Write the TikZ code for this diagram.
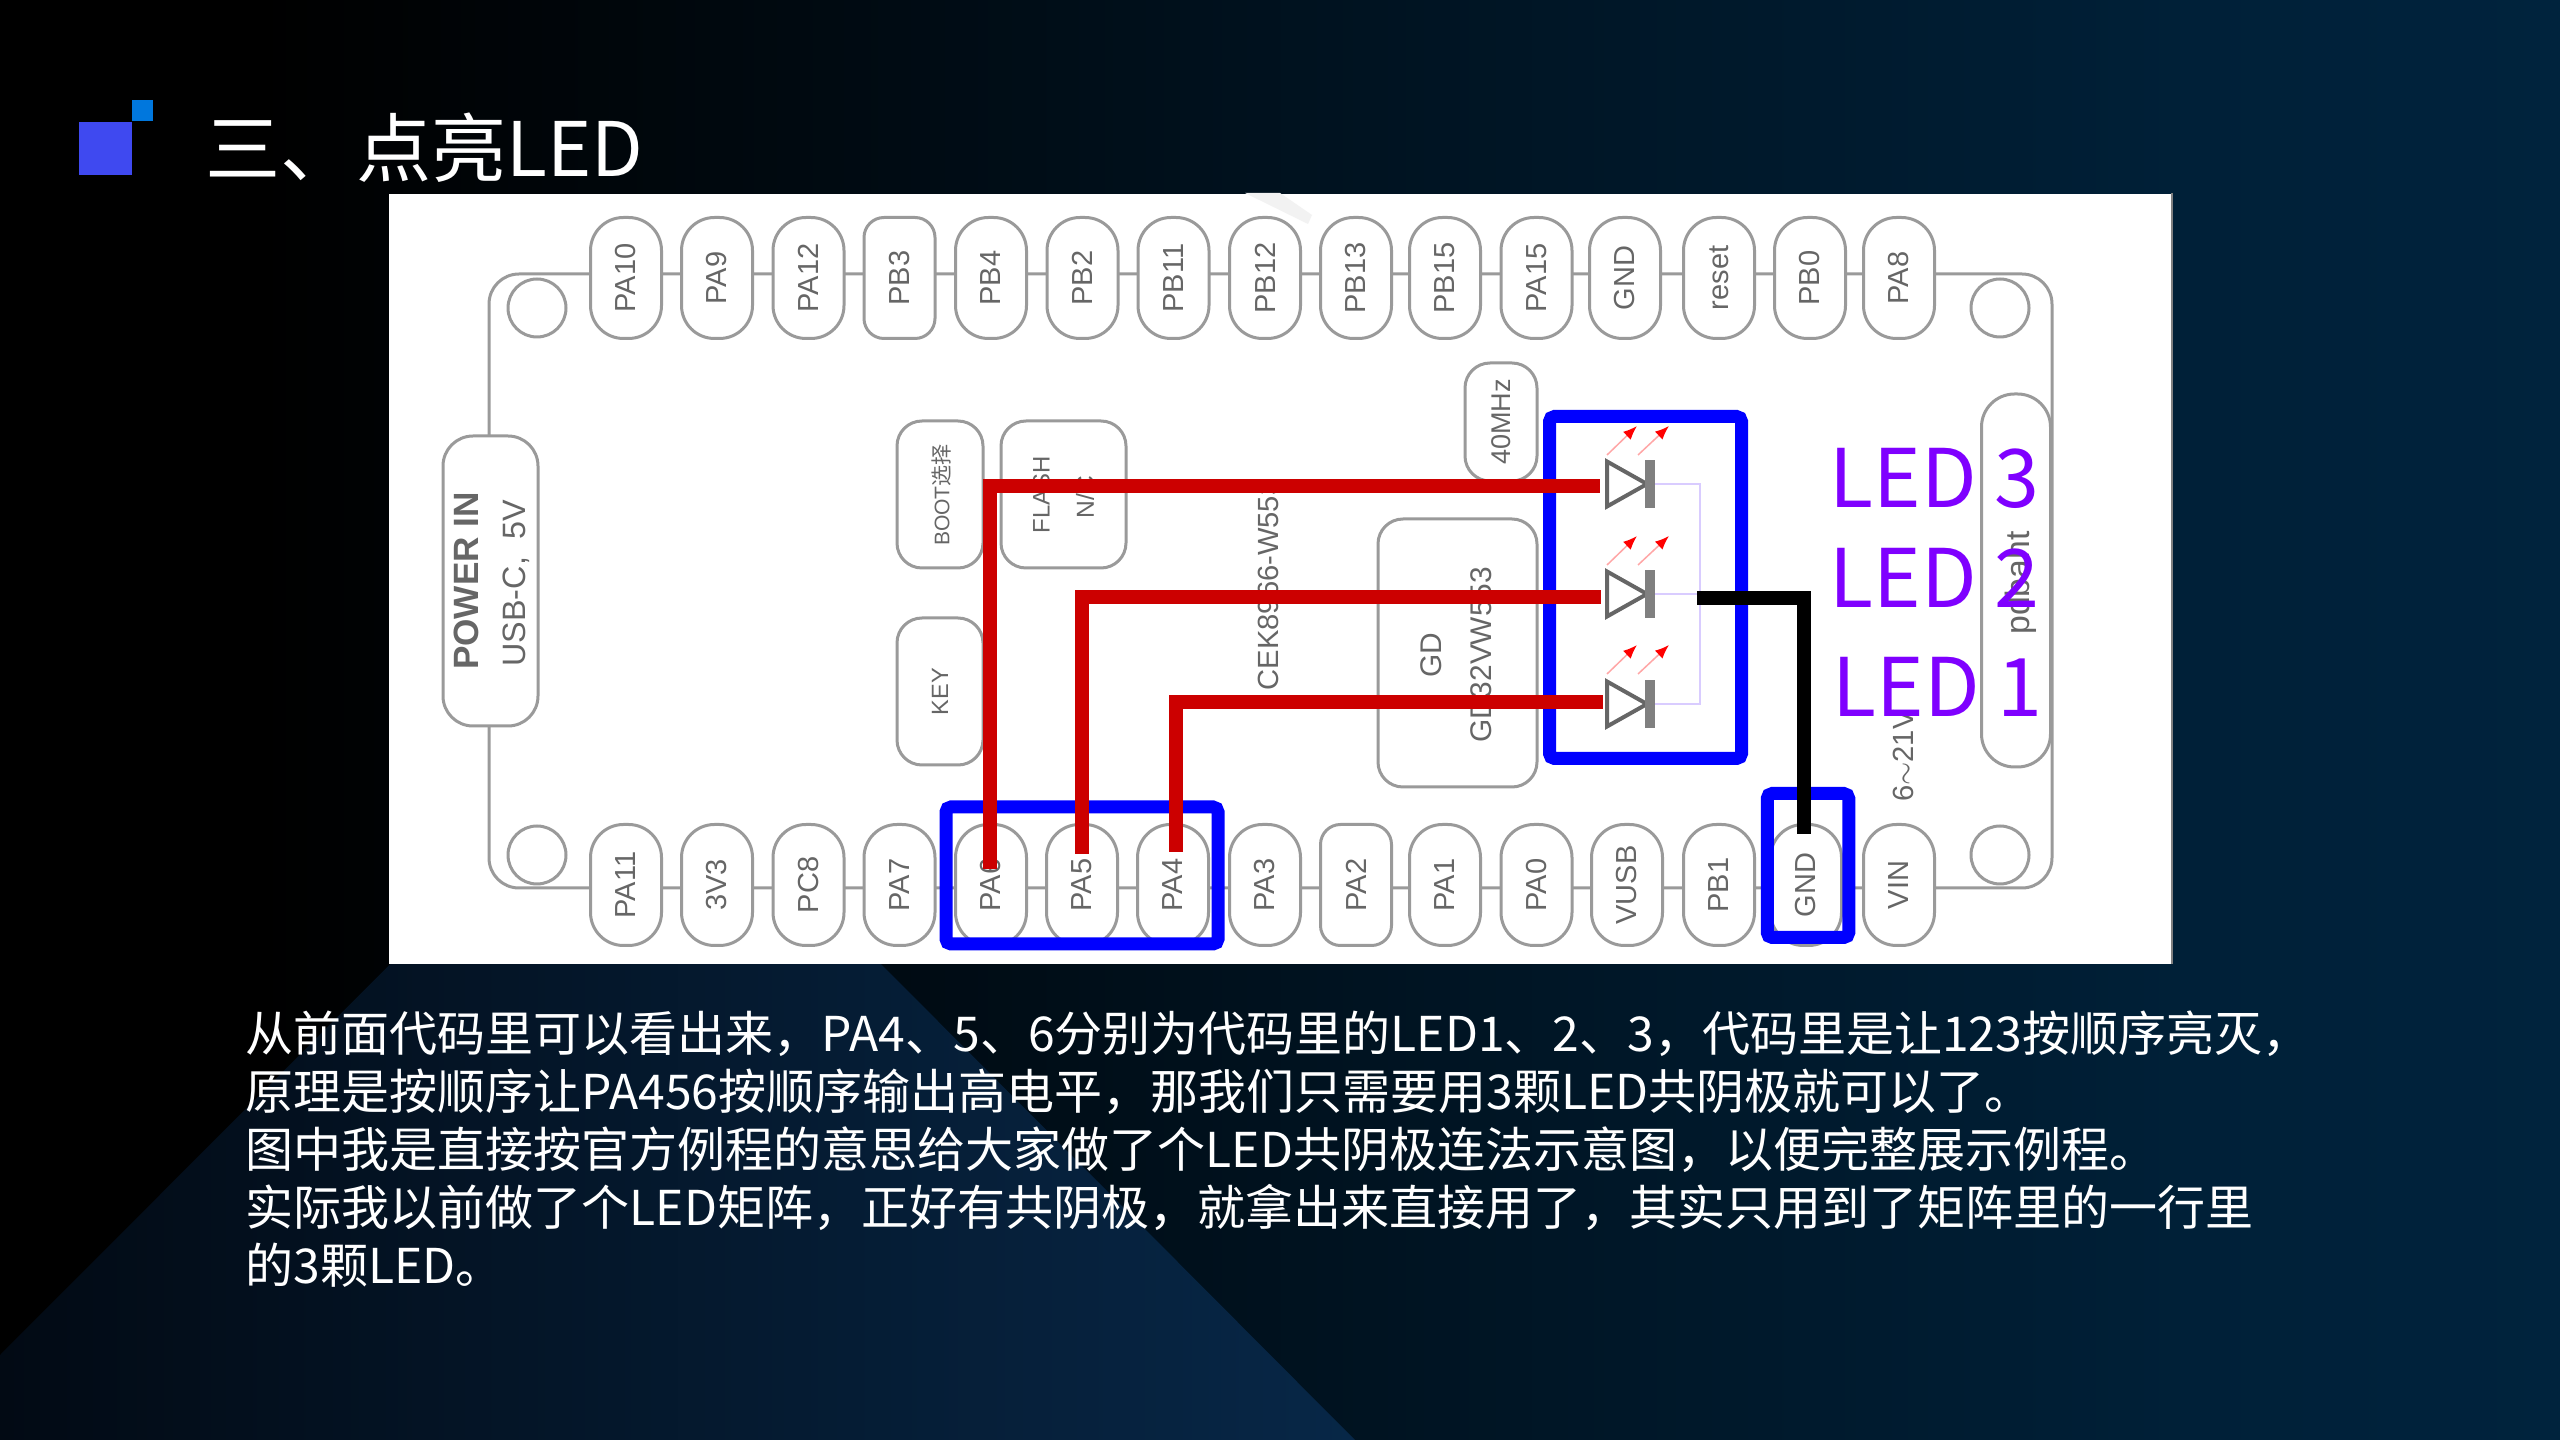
\documentclass[tikz,border=0pt]{standalone}
\usepackage{fontspec}
\setmainfont{Liberation Sans}
\newfontfamily\cjk{Noto Sans CJK SC}
\usepackage{tikz}
\usetikzlibrary{shapes.geometric, arrows, arrows.meta}

\definecolor{slideright}{HTML}{00233D}
\definecolor{facetleft}{HTML}{020A14}
\definecolor{facetright}{HTML}{072747}
\definecolor{markbig}{HTML}{3F49F0}
\definecolor{marksmall}{HTML}{0077DD}
\definecolor{pinline}{HTML}{9A9A9A}
\definecolor{pintext}{HTML}{666666}
\definecolor{wirered}{HTML}{CC0000}
\definecolor{buslilac}{HTML}{D9CCFF}
\definecolor{ledlabel}{HTML}{7F00FF}
\pgfdeclarehorizontalshading{slidefade}{100bp}{color(0bp)=(black); color(30bp)=(black); color(50bp)=(slideright!50!black); color(68bp)=(slideright!92!black); color(75bp)=(slideright); color(100bp)=(slideright)}

\begin{document}
\begin{tikzpicture}[x=0.1mm, y=-0.1mm, font=\fontsize{8.25pt}{10pt}\selectfont, text=pintext]
		\tikzstyle{pin} = [rectangle, rotate=90, rounded corners=3.3mm, minimum width=12.1mm, minimum height=7.1mm, inner sep=0pt, draw=pinline, line width=.3mm, fill=white]
		
		\tikzstyle{squarepin} = [pin, rounded corners=2mm]
		
		\tikzstyle{part} = [rectangle, rotate=90, rounded corners=2.5mm, inner sep=0pt, draw=pinline, line width=.3mm, fill=white]
		
		\tikzstyle{hole} = [circle, minimum size=5.8mm, inner sep=0pt, draw=pinline, line width=.3mm]
		
		\tikzstyle{silk} = [rotate=90, inner sep=0pt]
		
		\tikzstyle{bluebox} = [rectangle, rounded corners=.5mm, inner sep=0pt, draw=blue, line width=1.3mm]
		
		\tikzstyle{ledtri} = [isosceles triangle, isosceles triangle stretches, minimum width=4.5mm, minimum height=4mm, inner sep=0pt, outer sep=0pt, anchor=apex, draw=black!60, line width=.4mm]
		
		\tikzstyle{ledbar} = [rectangle, minimum width=1mm, minimum height=4.8mm, inner sep=0pt, outer sep=0pt, fill=gray]
		
		\tikzstyle{glow} = [-{Latex[red, length=1.4mm, width=1.1mm]}, draw=red!35, line width=.15mm]
		
		\tikzstyle{ledname} = [anchor=base west, inner sep=0pt, text=ledlabel, font=\cjk\fontsize{23pt}{28pt}\selectfont]
		
		\tikzstyle{redwire} = [draw=wirered, line width=1.4mm]
		
		% Slide background
		\useasboundingbox (0,0) rectangle (2560,1440);
		\shade [shading=slidefade] (0,0) rectangle (2560,1440);
		\shade [left color=facetleft, right color=facetright] (0,1355) -- (636,718) -- (1355,1440) -- (0,1440) -- cycle;
		
		% Title
		\fill [markbig] (79,122) rectangle (132,175);
		\fill [marksmall] (132,100) rectangle (153,121);
		\node (title) [anchor=base west, inner sep=0pt, text=white, font=\cjk\fontsize{21.4pt}{25pt}\selectfont] at (205,177) {三、点亮LED};
		
		% White panel and board outline
		\node (panel) [anchor=north west, minimum width=178.3mm, minimum height=77mm, inner sep=0pt, fill=white] at (388,193) {};
		\draw [draw=gray, line width=.2mm] (panel.north east) -- (panel.south east);
		\fill [black!5] (1245,193) -- (1280,193) -- (1312,215) -- (1308,224) -- cycle;
		\node (board) [minimum width=156.3mm, minimum height=61.4mm, rounded corners=3mm, inner sep=0pt, draw=pinline, line width=.3mm] at (1270.5,581) {};
		\node (holea) [hole] at (537,308) {};
		\node (holeb) [hole] at (2000,308) {};
		\node (holec) [hole] at (537,855) {};
		\node (holed) [hole] at (2000,855) {};
		
		% Top row of pins
		\node (pa10) [pin] at (626,278) {PA10};
		\node (pa9) [pin] at (717,278) {PA9};
		\node (pa12) [pin] at (808.5,278) {PA12};
		\node (pb3) [squarepin] at (899.5,278) {PB3};
		\node (pb4) [pin] at (991,278) {PB4};
		\node (pb2) [pin] at (1082.5,278) {PB2};
		\node (pb11) [pin] at (1173.5,278) {PB11};
		\node (pb12) [pin] at (1265,278) {PB12};
		\node (pb13) [pin] at (1356,278) {PB13};
		\node (pb15) [pin] at (1445,278) {PB15};
		\node (pa15) [pin] at (1536.5,278) {PA15};
		\node (gnda) [pin] at (1625,278) {GND};
		\node (reset) [pin] at (1719,278) {reset};
		\node (pb0) [pin] at (1810,278) {PB0};
		\node (pa8) [pin] at (1899,278) {PA8};
		
		% Bottom row of pins
		\node (pa11) [pin] at (626,885) {PA11};
		\node (vcc) [pin] at (717,885) {3V3};
		\node (pc8) [pin] at (808.5,885) {PC8};
		\node (pa7) [pin] at (899.5,885) {PA7};
		\node (pa6) [pin] at (991,885) {PA6};
		\node (pa5) [pin] at (1082,885) {PA5};
		\node (pa4) [pin] at (1173,885) {PA4};
		\node (pa3) [pin] at (1265,885) {PA3};
		\node (pa2) [squarepin] at (1356,885) {PA2};
		\node (pa1) [pin] at (1445,885) {PA1};
		\node (pa0) [pin] at (1536.5,885) {PA0};
		\node (vusb) [pin] at (1627,885) {VUSB};
		\node (pb1) [pin] at (1719,885) {PB1};
		\node (gndb) [pin] at (1806,885) {GND};
		\node (vin) [pin] at (1899,885) {VIN};
		
		% Parts on the board
		\node (power) [part, rounded corners=3mm, minimum width=29mm, minimum height=9.5mm] at (490.5,581) {};
		\node (powera) [silk, font=\fontsize{10pt}{11pt}\selectfont\bfseries] at (466,581) {POWER IN};
		\node (powerb) [silk, font=\fontsize{9.2pt}{11pt}\selectfont] at (516.5,583) {USB-C,\ \ 5V};
		\node (boot) [part, minimum width=14.7mm, minimum height=8.6mm] at (940,494.5) {};
		\node (bootlabel) [silk, font=\fontsize{6pt}{7pt}\selectfont] at (941.5,495) {BOOT{\cjk 选择}};
		\node (flash) [part, minimum width=14.7mm, minimum height=12.5mm] at (1063.5,494.5) {};
		\node (flasha) [silk, font=\fontsize{6.8pt}{8pt}\selectfont] at (1041.5,495) {FLASH};
		\node (flashb) [silk, font=\fontsize{7pt}{8pt}\selectfont] at (1085,497) {N/C};
		\node (key) [part, minimum width=14.7mm, minimum height=8.6mm] at (940,691.5) {};
		\node (keylabel) [silk, font=\fontsize{6.7pt}{8pt}\selectfont] at (940,691.5) {KEY};
		\node (module) [silk, font=\fontsize{8.3pt}{10pt}\selectfont] at (1268,585) {CEK8966-W553};
		\node (xtal) [part, minimum width=11.8mm, minimum height=7.2mm] at (1501,422) {};
		\node (xtallabel) [silk, font=\fontsize{7.7pt}{9pt}\selectfont] at (1501,422) {40MHz};
		\node (chip) [part, minimum width=26.8mm, minimum height=15.9mm] at (1457.5,653) {};
		\node (chipa) [silk, font=\fontsize{8.5pt}{10pt}\selectfont] at (1431,655) {GD};
		\node (chipb) [silk, font=\fontsize{8.5pt}{10pt}\selectfont] at (1481,655) {GD32VW553};
		\node (plug) [part, rounded corners=3.3mm, minimum width=37.3mm, minimum height=6.9mm] at (2016,580.5) {};
		\node (pluglabel) [silk, font=\fontsize{9.6pt}{11pt}\selectfont] at (2021,583) {pdbaht};
		\node (vrange) [silk, font=\fontsize{8.3pt}{10pt}\selectfont] at (1903,756) {6$\sim$21V};
		
		% Blue frames
		\node (pinframe) [bluebox, minimum width=27.2mm, minimum height=13.7mm] at (1082,875.5) {};
		\node (ledframe) [bluebox, minimum width=19.2mm, minimum height=34.2mm] at (1645.5,587.5) {};
		\node (gndframe) [bluebox, minimum width=8.15mm, minimum height=14.4mm] at (1808,865.5) {};
		
		% The three LEDs
		\node (led3) [ledtri] at (1647,484) {};
		\node (bar3) [ledbar] at (1650,484) {};
		\draw [glow] (1607,455) -- (1637,426);
		\draw [glow] (1638,455) -- (1669,426);
		\node (led2) [ledtri] at (1647,594) {};
		\node (bar2) [ledbar] at (1650,594) {};
		\draw [glow] (1607,565) -- (1637,536);
		\draw [glow] (1638,565) -- (1669,536);
		\node (led1) [ledtri] at (1647,704) {};
		\node (bar1) [ledbar] at (1650,704) {};
		\draw [glow] (1607,674) -- (1637,645);
		\draw [glow] (1638,674) -- (1669,645);
		
		% Common cathode line
		\coordinate (busmid) at (1700,594);
		\draw [draw=buslilac, line width=.25mm] (bar3.east) -| (busmid) |- (bar1.east);
		\draw [draw=buslilac, line width=.25mm] (bar2.east) -- (busmid);
		
		% LED names
		\node (name3) [ledname] at (1829,508) {LED 3};
		\node (name2) [ledname] at (1829,608) {LED 2};
		\node (name1) [ledname] at (1832,717) {LED 1};
		
		% Wires
		\coordinate (pa6end) at (990,869);
		\coordinate (pa5end) at (1081.5,854);
		\coordinate (pa4end) at (1176,852);
		\coordinate (led3in) at (1600,486);
		\coordinate (led2in) at (1601,597);
		\coordinate (led1in) at (1603,702);
		\draw [redwire] (pa6end) |- (led3in);
		\draw [redwire] (pa5end) |- (led2in);
		\draw [redwire] (pa4end) |- (led1in);
		\coordinate (gndstart) at (1697,598);
		\coordinate (gndend) at (1803.5,834);
		\draw [draw=black, line width=1.4mm] (gndstart) -| (gndend);
		
		% Explanation below the panel
		\node (notes) [anchor=north west, inner sep=0pt, align=left, text=white, font=\cjk\fontsize{13.66pt}{16.5pt}\selectfont] at (245,1010) {从前面代码里可以看出来，PA4、5、6分别为代码里的LED1、2、3，代码里是让123按顺序亮灭，\\原理是按顺序让PA456按顺序输出高电平，那我们只需要用3颗LED共阴极就可以了。\\图中我是直接按官方例程的意思给大家做了个LED共阴极连法示意图，以便完整展示例程。\\实际我以前做了个LED矩阵，正好有共阴极，就拿出来直接用了，其实只用到了矩阵里的一行里\\的3颗LED。};
	\end{tikzpicture}
\end{document}
